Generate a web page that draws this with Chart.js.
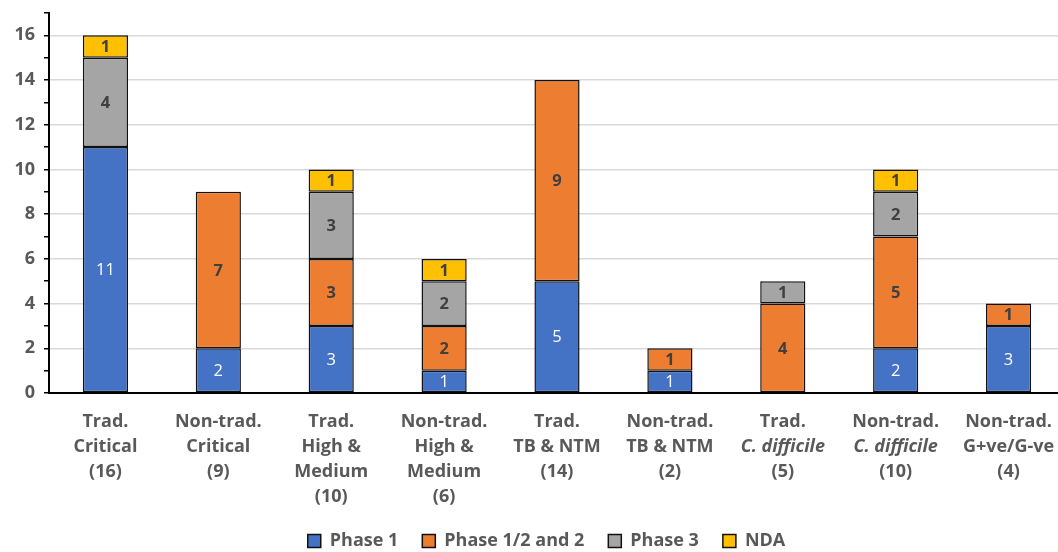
<!DOCTYPE html>
<html>
<head>
<meta charset="utf-8">
<script src="https://cdn.jsdelivr.net/npm/chart.js@4.4.1/dist/chart.umd.min.js"></script>
<style>
  html, body { margin: 0; padding: 0; background: #fff; width: 1058px; height: 552px; overflow: hidden; }
  canvas { display: block; }
</style>
</head>
<body>
<canvas id="c" width="1065" height="552"></canvas>
<script>
// Category labels, one entry per line of text under each bar
const categories = [
  ['Trad.', 'Critical', '(16)'],
  ['Non-trad.', 'Critical', '(9)'],
  ['Trad.', 'High &', 'Medium', '(10)'],
  ['Non-trad.', 'High &', 'Medium', '(6)'],
  ['Trad.', 'TB & NTM', '(14)'],
  ['Non-trad.', 'TB & NTM', '(2)'],
  ['Trad.', 'C. difficile', '(5)'],
  ['Non-trad.', 'C. difficile', '(10)'],
  ['Non-trad.', 'G+ve/G-ve', '(4)']
];
const italicLines = ['C. difficile'];

const seriesNames = ['Phase 1', 'Phase 1/2 and 2', 'Phase 3', 'NDA'];
const phase1      = [11, 2, 3, 1, 5, 1, 0, 2, 3];
const phase12and2 = [0, 7, 3, 2, 9, 1, 4, 5, 1];
const phase3      = [4, 0, 3, 2, 0, 0, 1, 2, 0];
const nda         = [1, 0, 1, 1, 0, 0, 0, 1, 0];

const yMax = 17;
const yTickLabels = [0, 2, 4, 6, 8, 10, 12, 14, 16];

const seriesColors = ['#4472C4', '#ED7D31', '#A5A5A5', '#FFC000'];
const labelColors  = ['#ffffff', '#404040', '#404040', '#404040'];
const FONT = '"Open Sans", "Noto Sans", sans-serif';
const TEXT_GREY = '#595959';

const seriesValues = [phase1, phase12and2, phase3, nda];

const datasets = seriesValues.map((vals, i) => ({
  label: seriesNames[i],
  data: vals.map(v => (v ? v : null)),
  backgroundColor: seriesColors[i],
  borderColor: '#111',
  borderWidth: 1.5,
  borderSkipped: false,
  barPercentage: 0.4,
  categoryPercentage: 1.0
}));

// Values written in the middle of each stacked segment
const segmentLabels = {
  id: 'segmentLabels',
  afterDatasetsDraw(chart) {
    const ctx = chart.ctx;
    ctx.save();
    ctx.textAlign = 'center';
    ctx.textBaseline = 'middle';
    chart.data.datasets.forEach((ds, di) => {
      const meta = chart.getDatasetMeta(di);
      meta.data.forEach((bar, i) => {
        const v = ds.data[i];
        if (!v) return;
        const p = bar.getCenterPoint();
        ctx.fillStyle = labelColors[di];
        ctx.font = (di === 0 ? '400 16.5px ' : '700 16.5px ') + FONT;
        ctx.fillText(String(v), p.x, p.y + 1);
      });
    });
    ctx.restore();
  }
};

// Multi-line category captions under the x axis (species name in italics)
const categoryCaptions = {
  id: 'categoryCaptions',
  afterDraw(chart) {
    const ctx = chart.ctx;
    const xs = chart.scales.x;
    const base = chart.chartArea.bottom;
    ctx.save();
    ctx.textAlign = 'center';
    ctx.textBaseline = 'middle';
    ctx.fillStyle = TEXT_GREY;
    categories.forEach((lines, i) => {
      const x = xs.getPixelForValue(i);
      lines.forEach((line, li) => {
        const italic = italicLines.includes(line);
        ctx.font = (italic ? 'italic ' : '') + '700 18px ' + FONT;
        ctx.fillText(line, x, base + 29 + li * 25);
      });
    });
    ctx.restore();
  }
};

// Nudge the legend row to its place under the captions
const legendOffset = {
  id: 'legendOffset',
  afterLayout(chart) {
    const lg = chart.legend;
    if (!lg) return;
    lg.left += 14; lg.right += 14;
    lg.top += 8; lg.bottom += 8;
  }
};

new Chart(document.getElementById('c'), {
  type: 'bar',
  data: { labels: categories, datasets },
  options: {
    responsive: false,
    animation: false,
    layout: { padding: { top: 13, left: 0, right: 0, bottom: 0 } },
    plugins: {
      tooltip: { enabled: false },
      legend: {
        position: 'bottom',
        labels: {
          color: TEXT_GREY,
          font: { family: FONT, size: 18, weight: '700' },
          boxWidth: 13,
          boxHeight: 13,
          padding: 24
        }
      }
    },
    scales: {
      x: {
        stacked: true,
        grid: { display: true, drawOnChartArea: false, drawTicks: false, color: 'rgba(0,0,0,0)' },
        border: { display: true, color: '#000', width: 2 },
        ticks: { display: false },
        afterFit(scale) { scale.height = 107; }
      },
      y: {
        stacked: true,
        min: 0,
        max: yMax,
        ticks: {
          stepSize: 1,
          autoSkip: false,
          padding: 9,
          color: TEXT_GREY,
          font: { family: FONT, size: 18, weight: '700' },
          callback: v => (yTickLabels.includes(v) ? String(v) : '')
        },
        grid: {
          color: c => (c.tick && yTickLabels.includes(c.tick.value) && c.tick.value !== 0 ? '#d9d9d9' : 'rgba(0,0,0,0)'),
          lineWidth: 1.5,
          tickColor: '#000',
          tickLength: 5,
          tickWidth: 1.5
        },
        border: { display: true, color: '#000', width: 2 },
        afterFit(scale) {
          scale.width = 49;
          scale.paddingTop = 0;
          scale.paddingBottom = 0;
        }
      }
    }
  },
  plugins: [segmentLabels, categoryCaptions, legendOffset]
});
</script>
</body>
</html>
